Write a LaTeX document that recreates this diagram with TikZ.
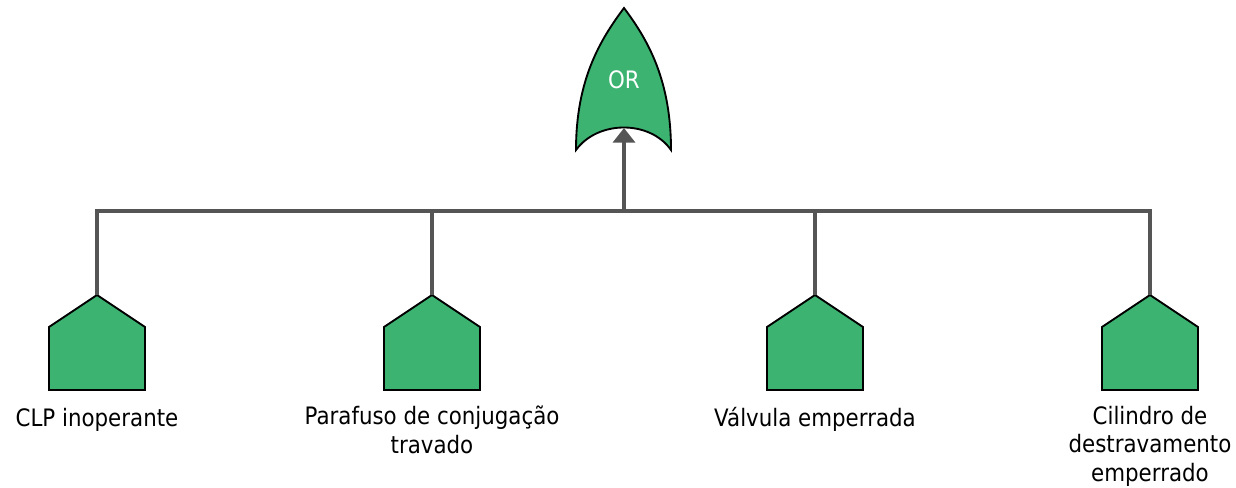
\documentclass[tikz,border=0pt]{standalone}
\usepackage{fontspec}
\setmainfont{DejaVu Sans}[FakeStretch=0.89]
\usetikzlibrary{arrows.meta}
\definecolor{gatefill}{HTML}{3CB371}
\definecolor{conncol}{HTML}{555555}
\begin{document}
\begin{tikzpicture}[x=0.75pt,y=-0.75pt,
  conn/.style={draw=conncol,line width=2.7pt},
  shapebox/.style={fill=gatefill,draw=black,line width=1.4pt,line join=miter},
  lbl/.style={anchor=north,inner sep=0pt,align=center,
    font=\fontsize{18pt}{21.4pt}\selectfont,
    execute at begin node={\rule{0pt}{15.3pt}}}]
\useasboundingbox (0,0) rectangle (1236,488);
% OR gate
\path[shapebox] (576,150) .. controls (576,80) and (600,40) .. (624,8)
  .. controls (648,40) and (671,80) .. (671,150)
  .. controls (650,120) and (598,120) .. (576,150) -- cycle;
\node[text=white,inner sep=0pt,font=\fontsize{18pt}{21pt}\selectfont] (orlabel) at (624,80) {OR};
\coordinate (gin) at (624,128);
\coordinate (bar) at (624,211);
% houses
\foreach \n/\x in {h1/97,h2/432,h3/815,h4/1150}{
  \path[shapebox] (\x,295) -- (\x+48,327) -- (\x+48,390) -- (\x-48,390) -- (\x-48,327) -- cycle;
  \coordinate (\n) at (\x,295);
}
% connectors
\draw[conn] (h1) |- (bar);
\draw[conn] (h2) |- (bar);
\draw[conn] (h3) |- (bar);
\draw[conn] (h4) |- (bar);
\draw[conn,-{Triangle[length=11pt,width=16.5pt]}] (bar) -- (gin);
% labels
\node[lbl] (t1) at (97,405.6) {CLP inoperante};
\node[lbl] (t2) at (432,405.6) {Parafuso de conjugação\\travado};
\node[lbl] (t3) at (815,405.6) {Válvula emperrada};
\node[lbl] (t4) at (1150,405.6) {Cilindro de\\destravamento\\emperrado};
\end{tikzpicture}
\end{document}
